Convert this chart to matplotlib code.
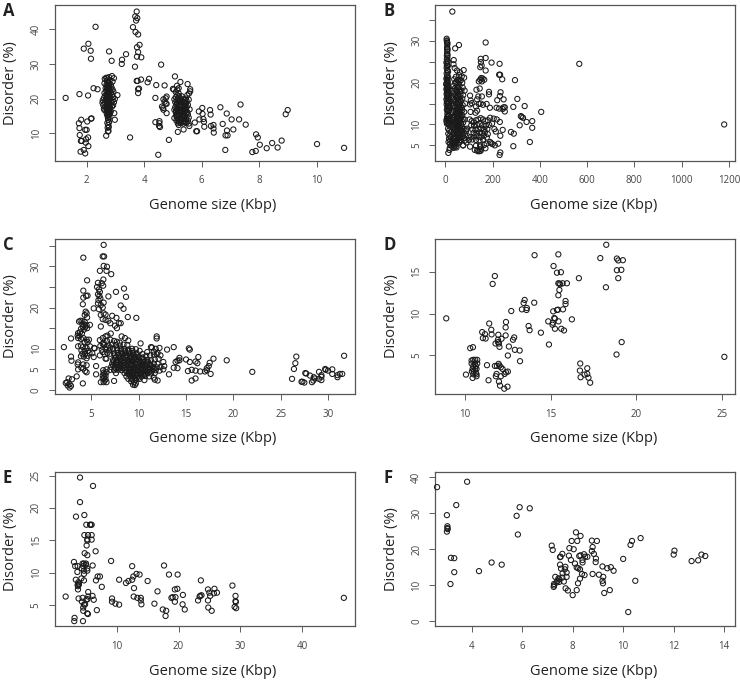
import matplotlib
matplotlib.use('Agg')
import matplotlib.pyplot as plt

plt.rcParams['font.family'] = ['Open Sans', 'DejaVu Sans']

# values: (genome size, disorder)
panel_a = [
    (1.27,20.2),(1.75,21.3),(2.05,20.9),(2.31,40.7),(1.9,34.4),(2.06,35.8),(2.14,33.8),(2.15,31.5),(2.24,23.0),(2.38,22.7),
    (1.73,12.9),(1.81,13.9),(1.75,11.5),(1.95,11.0),(2.0,11.0),(2.02,13.4),(2.15,14.2),(2.17,14.3),(1.76,9.5),(1.8,7.8),
    (1.83,7.8),(2.05,8.8),(1.98,8.3),(1.97,7.3),(2.06,6.3),(1.9,5.2),(1.79,4.7),(1.95,4.2),
    (2.78,33.6),(2.87,30.9),(2.98,13.9),(2.96,15.8),(3.07,21.0),(3.51,8.8),(3.23,31.2),(3.22,30.0),(3.37,32.8),(3.68,29.2),
    (3.61,40.6),(3.7,39.2),(3.79,38.5),(3.74,45.1),(3.69,43.7),(3.76,43.2),(3.72,42.5),(3.84,35.5),(3.75,34.8),(3.79,33.4),
    (3.75,32.1),(3.9,31.9),(3.74,25.1),(3.77,25.1),(3.89,25.5),(4.17,25.7),(4.12,24.7),(4.42,23.9),(4.71,23.8),(3.82,22.9),
    (3.79,22.7),(3.79,21.6),(4.59,29.8),(4.39,20.2),
    (4.78,20.6),(4.67,19.8),(4.75,20.1),(4.71,19.1),(4.75,18.6),(4.62,17.7),(4.66,17.3),(4.67,16.8),(4.78,18.5),(4.78,15.8),
    (4.39,13.2),(4.53,13.5),(4.53,12.9),(4.52,12.1),(4.55,11.8),(4.49,3.8),(4.86,8.1),
    # column near 2.75
    (2.68,9.3),(2.74,10.5),(2.76,10.7),(2.73,11.6),(2.77,11.8),(2.75,12.4),(2.72,13.0),(2.78,13.2),(2.75,13.9),(2.74,14.5),
    (2.79,14.6),(2.72,15.2),(2.77,15.5),(2.81,15.7),(2.74,16.0),(2.7,16.5),(2.62,16.7),(2.6,17.1),(2.78,16.6),(2.84,16.3),
    (2.72,17.2),(2.76,17.4),(2.65,17.6),(2.8,17.5),(2.88,17.7),(2.58,18.1),(2.7,18.2),(2.75,18.0),(2.83,18.2),(2.92,18.1),
    (2.55,18.8),(2.63,18.9),(2.72,18.7),(2.78,18.8),(2.86,18.9),(2.95,19.0),(2.56,19.5),(2.66,19.5),(2.74,19.4),(2.8,19.5),
    (2.9,19.6),(2.98,19.9),(2.6,20.2),(2.7,20.1),(2.76,20.2),(2.83,20.3),(2.92,20.4),(2.65,20.9),(2.72,20.8),(2.79,20.9),
    (2.88,21.1),(2.62,21.6),(2.71,21.5),(2.77,21.6),(2.85,21.8),(2.93,22.0),(2.68,22.3),(2.75,22.2),(2.81,22.4),(2.9,22.6),
    (2.66,23.0),(2.73,23.0),(2.79,23.1),(2.86,23.3),(2.71,23.7),(2.77,23.8),(2.84,24.0),(2.62,24.4),(2.74,24.5),(2.9,24.9),
    (2.7,25.2),(2.8,25.3),(2.63,25.7),(2.72,25.9),(2.78,26.2),(2.88,26.5),(2.95,25.9),(2.68,26.0),
    (2.74,15.0),(2.7,15.7),(2.76,16.2),(2.8,16.9),(2.69,17.0),(2.74,17.7),(2.78,18.3),(2.71,19.0),(2.76,19.7),(2.69,19.8),
    (2.79,20.0),(2.73,20.5),(2.77,21.2),(2.69,21.1),(2.74,21.9),(2.8,22.0),(2.71,22.7),(2.77,22.8),(2.74,23.4),(2.69,24.0),
    (2.79,24.4),(2.75,25.0),
    # columns near 5.2
    (5.0,22.8),(5.03,22.6),(5.07,26.4),(5.26,24.8),(5.51,24.2),(5.14,23.7),(5.6,22.7),(5.6,22.1),(5.17,10.4),(5.37,11.1),
    (5.57,12.1),(5.2,23.0),(5.15,22.6),(5.1,21.9),(5.2,21.5),(5.15,21.0),(5.1,20.4),(5.22,20.6),(5.3,20.7),(5.5,21.0),
    (5.56,21.5),(5.05,19.8),(5.15,19.6),(5.25,19.9),(5.35,19.8),(5.45,20.0),(5.55,19.7),(5.08,19.0),(5.18,18.9),(5.28,19.1),
    (5.38,19.0),(5.48,19.2),(5.12,18.2),(5.22,18.3),(5.32,18.1),(5.42,18.3),(5.52,18.2),(5.08,17.5),(5.18,17.4),(5.28,17.6),
    (5.38,17.5),(5.48,17.6),(5.05,16.8),(5.15,16.7),(5.25,16.9),(5.35,16.8),(5.45,16.7),(5.58,16.9),(5.1,16.0),(5.2,16.1),
    (5.3,15.9),(5.4,16.0),(5.5,16.1),(5.12,15.3),(5.22,15.2),(5.32,15.3),(5.42,15.1),(5.52,15.4),(5.05,14.4),(5.15,14.5),
    (5.25,14.4),(5.35,14.6),(5.45,14.3),(5.55,14.5),(5.12,13.7),(5.22,13.6),(5.32,13.8),(5.42,13.5),(5.52,13.7),(5.17,12.9),
    (5.27,13.0),(5.37,12.8),(5.47,13.0),(5.55,12.8),(5.2,12.4),
    (5.17,20.0),(5.21,19.4),(5.14,18.6),(5.2,17.9),(5.16,17.0),(5.21,16.5),(5.17,15.6),(5.2,14.9),(5.18,14.0),(5.22,13.2),
    (5.42,19.5),(5.46,18.7),(5.4,17.9),(5.45,17.2),(5.41,16.4),(5.46,15.6),(5.41,14.8),(5.45,13.9),(5.4,13.2),(5.28,18.5),
    (5.27,16.3),(5.3,14.9),(5.33,17.1),(5.11,16.5),(5.12,14.9),
    (5.76,13.1),(5.81,10.6),(5.84,10.6),(5.9,16.3),(5.92,14.0),(6.02,17.3),(6.03,15.6),(6.06,14.1),(6.08,13.3),(6.09,11.9),
    (6.29,16.7),(6.31,15.4),(6.32,12.1),(6.41,12.4),(6.41,11.4),(6.42,10.2),(6.65,17.5),(6.73,12.7),(6.82,5.2),(6.87,15.7),
    (6.88,10.8),(6.83,9.4),(6.9,9.4),(7.04,14.0),(7.1,11.1),(7.3,14.0),(7.35,18.3),(7.53,12.5),(7.89,9.7),(7.95,8.8),
    (8.02,6.7),(7.76,4.6),(7.88,4.9),(8.26,5.7),(8.45,7.2),(8.64,5.9),(8.78,7.9),(8.92,15.5),(8.99,16.7),(10.01,6.9),(10.95,5.8),
]

panel_b = [
    (30,37.0),(42,28.2),(58,29.0),(171,29.6),(171,25.9),(150,25.7),(151,24.9),(154,24.1),(148,23.7),(171,22.9),
    (196,24.8),(230,24.5),(567,24.5),(1180,10.0),(228,21.9),(232,21.9),(241,20.8),(295,20.6),(305,16.1),(247,16.0),
    (234,17.7),(231,16.8),(185,17.8),(185,17.2),(220,15.8),(288,14.2),(336,14.4),(406,13.0),(247,14.1),(252,14.1),
    (243,13.7),(252,13.1),(217,14.0),(228,13.8),(189,14.0),(175,14.9),(320,12.0),(323,11.8),(329,11.6),(344,10.6),
    (368,10.8),(368,9.2),(315,9.8),(278,8.2),(290,7.8),(358,5.8),(288,4.8),(233,3.3),(230,2.7),(243,8.7),(233,7.3),
    (224,5.4),(231,10.6),
    # column near 5-15
    (6,30.5),(7,30.1),(8,29.6),(9,29.1),(8,28.5),(10,28.0),(9,27.5),(8,27.0),(10,26.6),(9,26.0),(7,25.6),(11,25.2),
    (5,24.8),(8,24.4),(11,24.0),(6,23.5),(9,23.0),(12,22.6),(6,22.2),(9,21.8),(12,21.3),(5,20.9),(8,20.4),(11,20.0),
    (4,19.6),(8,19.2),(12,18.8),(5,18.4),(9,18.0),(13,17.6),(6,17.2),(10,16.8),(14,16.4),(5,16.0),(9,15.6),(13,15.2),
    (6,14.8),(11,14.4),(15,14.0),(7,13.5),(12,13.1),(9,12.6),(14,12.2),(8,11.7),(12,11.3),(18,11.0),(5,10.8),(9,10.4),
    (14,10.2),(18,9.8),(22,9.5),(12,9.0),(17,8.6),(23,8.2),(13,7.8),(18,7.3),(24,7.0),(16,6.6),(21,6.2),(14,5.8),(20,5.4),
    (25,5.0),(19,4.4),(13,3.2),(18,3.9),
    (7,29.9),(9,29.5),(8,28.0),(7,26.5),(9,25.0),(7,24.0),(10,22.9),(7,21.3),(10,20.6),(6,19.9),(10,19.4),(14,19.0),(7,18.7),
    (11,18.3),(15,18.0),(7,17.6),(11,17.2),(16,17.0),(8,16.4),(12,16.1),(7,15.3),(11,15.0),(16,15.2),(9,14.2),(13,14.1),
    (18,14.3),(10,13.7),(15,13.4),(11,12.1),(16,12.0),(6,11.2),(13,11.0),(20,10.9),(7,10.2),(16,10.3),
    # column near 30-70
    (40,23.5),(36,25.4),(35,24.4),(50,22.9),(62,22.5),(78,23.0),(45,21.4),(58,21.8),(70,21.5),(80,21.2),(38,20.8),(52,20.6),
    (66,20.6),(42,19.9),(56,19.8),(72,20.0),(34,19.2),(48,19.0),(60,19.1),(74,18.8),(82,18.1),(30,18.0),(44,18.2),(58,18.3),
    (68,18.0),(38,17.3),(52,17.5),(64,17.2),(76,17.0),(32,16.5),(46,16.6),(60,16.4),(72,16.2),(40,15.8),(54,15.7),(66,15.6),
    (84,15.0),(34,15.0),(48,14.9),(62,14.8),(74,14.6),(42,14.1),(56,14.0),(70,13.9),(36,13.3),(50,13.2),(64,13.1),(80,13.0),
    (30,12.6),(44,12.5),(58,12.4),(72,12.2),(38,11.8),(52,11.7),(66,11.6),(82,11.2),(32,11.0),(46,10.9),(60,10.8),(76,10.5),
    (40,10.1),(54,10.0),(68,9.9),(34,9.5),(48,9.4),(62,9.2),(78,9.0),(42,8.7),(56,8.6),(70,8.4),(36,8.0),(50,7.9),(64,7.8),
    (84,7.6),(44,7.2),(58,7.1),(72,7.0),(38,6.5),(52,6.4),(66,6.3),(30,6.0),(46,5.8),(60,5.7),(76,5.0),(34,5.3),(40,4.9),
    (44,4.7),(36,4.4),(42,5.2),(48,4.5),(30,4.6),
    (60,20.2),(46,20.2),(55,18.7),(40,18.6),(50,17.9),(62,17.8),(44,17.0),(56,16.9),(35,16.0),(50,16.3),(62,15.9),(42,15.3),
    (56,15.2),(37,14.4),(52,14.3),(64,14.2),(44,13.5),(58,13.5),(72,13.4),(33,12.9),(48,12.8),(62,12.7),(40,12.2),(54,12.1),
    (68,12.0),(34,11.5),(48,11.4),(60,11.3),(74,11.3),(38,10.6),(52,10.5),(66,10.4),(32,10.1),(46,10.2),(60,10.1),(42,9.7),
    (56,9.6),(70,9.4),(36,9.0),(50,8.9),(64,8.7),(44,8.3),(58,8.2),(72,7.7),(38,7.6),(52,7.4),(66,7.1),(42,6.8),(56,6.7),
    (34,6.7),(48,6.1),(60,6.2),(38,5.5),(52,5.5),
    # scatter near 100-200
    (105,16.9),(108,15.7),(112,15.1),(105,14.8),(107,13.0),(130,14.3),(135,13.3),(128,12.8),(142,14.9),(132,18.3),(146,18.6),
    (150,15.0),(160,14.7),(155,16.7),(140,16.7),(135,16.0),(142,20.3),(148,20.7),(152,21.1),(158,21.0),(165,20.7),(155,20.3),
    (103,11.2),(112,10.8),(120,10.5),(130,11.0),(140,11.2),(150,11.5),(160,11.2),(170,10.8),(180,11.0),(190,11.6),(205,11.4),
    (218,11.2),(110,9.8),(122,9.7),(134,9.9),(146,10.1),(158,9.8),(172,9.7),(186,9.9),(198,10.2),(115,8.8),(128,8.7),(140,8.9),
    (152,9.0),(165,8.8),(178,8.9),(208,8.9),(214,8.3),(88,8.8),(92,9.0),(88,8.4),(120,8.0),(132,7.8),(144,8.1),(156,7.9),
    (168,8.2),(180,7.7),(95,7.2),(108,7.0),(122,7.1),(136,7.2),(150,7.0),(164,7.3),(176,6.9),(80,6.8),(85,6.2),(100,6.3),
    (115,6.4),(130,6.3),(145,6.2),(160,6.4),(75,5.0),(90,5.7),(105,4.7),(130,4.9),(148,5.0),(165,5.1),(175,5.4),(190,5.8),
    (195,5.5),(200,5.3),(210,5.0),(125,3.9),(138,3.6),(145,3.6),(150,3.7),(152,4.2),(170,4.3),(148,4.7),(135,3.8),
]

panel_c = [
    (6.3,35.2),(6.2,32.4),(6.35,32.4),(4.15,32.1),(6.3,30.1),(6.65,29.9),(5.9,28.9),(6.6,28.9),(7.1,28.1),(4.55,26.6),
    (6.27,26.8),(5.7,26.0),(6.1,25.9),(6.25,25.3),(5.6,25.0),(4.15,24.1),(8.45,24.6),(7.6,23.8),(8.66,22.6),(6.8,22.7),
    (4.45,22.8),(4.6,22.9),(4.15,22.4),(4.1,20.8),(8.1,20.5),(8.4,19.7),(5.25,19.8),(8.85,17.7),(9.75,17.5),(7.2,18.0),
    (7.65,17.5),(5.8,24.4),(5.9,23.8),(5.7,23.2),(5.85,22.8),(5.95,22.2),(5.75,21.8),(6.3,21.2),(5.7,21.0),(6.0,20.6),
    (6.2,20.0),(5.8,19.6),(6.3,18.6),(6.0,18.2),(6.5,18.3),(6.2,17.2),(6.5,17.0),(6.8,16.8),(7.0,16.2),(6.0,15.4),
    (7.5,15.6),(7.7,15.0),(7.9,16.2),(8.1,16.2),
    # left group
    (4.4,19.0),(4.5,18.6),(4.3,18.2),(4.55,17.6),(3.7,16.6),(3.85,16.8),(4.05,16.7),(4.3,16.5),(4.05,16.0),(4.25,15.8),
    (4.5,15.7),(4.85,15.8),(4.1,15.3),(4.35,15.2),(4.55,15.0),(3.9,14.8),(4.2,14.6),(3.6,13.8),(3.8,14.0),(4.0,13.7),
    (3.55,13.2),(3.75,13.1),(3.6,12.6),(3.9,12.4),(4.15,12.6),(2.85,12.5),(4.5,12.2),(4.75,12.2),(4.3,11.6),(4.6,11.6),
    (3.6,10.6),(3.9,10.8),(2.1,10.4),(4.1,10.4),(4.5,10.2),(4.85,10.6),(5.3,10.2),(5.35,10.1),(3.95,9.6),(4.3,9.5),
    (4.65,9.5),(4.05,8.8),(4.35,8.8),(4.8,9.0),(5.1,8.9),(3.9,8.2),(4.2,8.1),(4.6,8.3),(2.85,8.1),(5.25,8.0),(4.5,7.7),
    (2.9,7.1),(3.6,6.7),(3.55,6.2),(4.15,6.2),(4.5,6.0),(3.95,5.4),(4.15,5.2),(3.6,5.0),(4.35,4.6),(4.5,4.3),(3.45,3.3),
    (4.1,1.6),(5.5,5.8),(5.5,3.8),(2.3,1.7),(2.6,2.8),(2.95,2.6),(2.7,1.4),(2.5,1.1),(2.85,1.0),(2.7,0.6),(2.45,1.9),
    # dense middle
    (5.9,12.1),(6.2,12.6),(6.5,13.0),(6.7,13.2),(7.05,13.7),(6.3,11.5),(6.65,11.9),(7.0,12.2),(7.4,11.9),(7.7,11.7),
    (8.0,11.5),(8.2,13.0),(8.55,12.6),(8.9,12.0),(5.95,10.7),(6.35,10.9),(6.8,10.8),(7.2,11.0),(7.6,10.9),(8.0,10.8),
    (8.4,11.0),(8.8,10.9),(6.1,9.8),(6.5,9.9),(6.9,9.6),(7.3,10.0),(7.7,10.1),(8.1,9.9),(8.5,10.0),(8.9,9.8),(9.3,10.0),
    (9.7,9.9),(10.1,9.5),(10.2,11.3),(5.9,8.4),(6.4,8.7),(7.0,8.8),(7.4,8.9),(7.8,9.0),(8.2,9.0),(8.6,9.1),(9.0,8.9),
    (9.4,9.0),(9.8,8.9),(10.4,8.7),(10.9,9.2),(11.3,10.4),(11.8,10.0),(7.6,8.0),(8.0,8.2),(8.4,8.0),(8.8,8.2),(9.2,8.0),
    (9.6,8.1),(10.0,8.0),(10.4,7.9),(10.8,8.3),(11.2,8.4),(11.6,8.6),(12.0,9.0),(12.2,10.2),(7.3,7.3),(7.7,7.2),(8.1,7.4),
    (8.5,7.2),(8.9,7.3),(9.3,7.2),(9.7,7.3),(10.1,7.1),(10.5,7.2),(10.9,7.3),(11.3,7.2),(11.7,7.4),(12.1,7.6),(12.3,8.4),
    (6.5,7.6),(6.6,7.6),(7.2,6.4),(7.6,6.5),(8.0,6.3),(8.4,6.5),(8.8,6.4),(9.2,6.3),(9.6,6.5),(10.0,6.3),(10.4,6.4),
    (10.8,6.5),(11.2,6.2),(11.6,6.4),(12.0,6.3),(12.6,6.8),(7.1,5.6),(7.5,5.7),(7.9,5.5),(8.3,5.7),(8.7,5.6),(9.1,5.5),
    (9.5,5.7),(9.9,5.5),(10.3,5.6),(10.7,5.7),(11.1,5.4),(11.5,5.6),(11.9,5.5),(12.3,5.6),(12.7,5.8),(6.6,5.0),(7.0,4.9),
    (7.4,4.8),(7.8,4.9),(8.2,4.8),(8.6,4.9),(9.0,4.8),(9.4,4.9),(9.8,4.7),(10.2,4.9),(10.6,4.8),(11.0,4.9),(11.4,4.7),
    (11.8,4.8),(12.2,4.7),(12.6,5.0),(6.3,4.2),(6.6,4.3),(7.6,4.1),(8.5,4.1),(8.9,4.0),(9.3,4.1),(9.7,4.0),(10.1,4.1),
    (10.5,4.0),(10.9,4.1),(11.3,4.0),(11.7,4.1),(6.2,3.5),(6.5,3.4),(8.7,3.3),(9.1,3.4),(9.5,3.3),(9.9,3.4),(10.3,3.3),
    (10.7,3.4),(11.1,3.3),(11.6,3.0),(6.2,2.8),(6.5,2.6),(8.9,2.7),(9.3,2.6),(9.7,2.5),(10.1,2.7),(10.6,2.4),(11.7,2.5),
    (12.0,2.3),(6.0,1.9),(6.3,1.9),(6.6,1.9),(7.4,2.2),(9.2,2.1),(9.5,1.9),(9.7,1.6),(9.4,1.3),(9.6,1.2),(11.9,13.0),
    (11.9,12.5),(11.4,10.3),(11.6,9.3),(11.9,8.7),
    (7.75,9.6),(8.15,9.4),(8.55,9.5),(8.95,9.4),(9.35,9.5),(7.45,8.4),(7.85,8.5),(8.25,8.6),(8.65,8.5),(9.05,8.6),(9.45,8.5),
    (9.85,8.4),(7.5,7.7),(7.9,7.8),(8.3,7.7),(8.7,7.8),(9.1,7.7),(9.5,7.6),(9.9,7.6),(10.3,7.7),(7.35,6.9),(7.8,6.8),(8.2,6.9),
    (8.6,6.9),(9.0,6.8),(9.4,6.9),(9.8,6.8),(10.2,6.7),(10.6,6.9),(11.0,6.8),(7.3,6.0),(7.7,6.1),(8.1,5.9),(8.5,6.1),(8.9,6.0),
    (9.3,5.9),(9.7,6.1),(10.1,5.9),(10.5,6.0),(10.9,6.1),(11.3,5.9),(7.6,5.2),(8.0,5.2),(8.4,5.3),(8.8,5.2),(9.2,5.1),(9.6,5.2),
    (10.0,5.1),(10.4,5.2),(10.8,5.1),(11.2,5.2),(11.6,5.1),(8.7,4.5),(9.1,4.4),(9.5,4.4),(9.9,4.5),(10.3,4.4),(10.7,4.5),(11.1,4.4),
    (9.0,3.8),(9.4,3.7),(9.8,3.8),(10.2,3.7),(10.6,3.8),(9.2,3.0),(9.6,2.9),(10.0,3.0),(6.25,4.8),(6.4,3.9),(6.35,3.1),(6.4,2.3),
    (6.7,9.0),(6.2,9.2),(6.6,10.4),(7.0,10.3),(6.2,11.2),
    # right of the cluster
    (13.0,9.8),(13.7,10.4),(13.2,3.8),(13.7,5.4),(14.1,5.3),(13.9,6.8),(14.1,7.1),(14.3,7.2),(14.3,7.8),(15.0,7.4),
    (15.3,10.1),(15.4,9.8),(15.4,6.8),(15.2,4.6),(15.6,4.9),(16.0,4.7),(15.6,2.3),(16.0,2.8),(16.0,6.9),(16.2,6.5),
    (16.3,8.0),(16.5,4.5),(17.0,4.5),(17.2,4.8),(17.2,5.3),(17.4,5.8),(17.5,6.6),(17.6,3.9),(17.9,7.6),(19.3,7.2),(22.0,4.4),
    # far right group
    (26.2,2.7),(26.4,5.1),(26.55,6.5),(26.65,8.1),(27.2,2.0),(27.3,2.0),(27.5,1.8),(27.6,4.1),(27.7,4.0),(28.1,3.5),
    (28.3,1.9),(28.45,2.3),(28.5,3.1),(28.6,2.8),(29.05,4.4),(29.05,2.7),(29.3,2.4),(29.3,3.2),(29.3,3.6),(29.7,5.1),
    (29.75,4.9),(30.0,4.7),(30.45,5.0),(30.45,3.9),(31.0,3.6),(31.0,3.1),(31.25,3.9),(31.5,3.9),(31.7,8.3),
]

panel_d = [
    (8.89,9.42),(18.24,18.25),(17.89,16.65),(18.86,16.6),(18.94,16.37),(19.21,16.4),(18.86,15.2),(19.12,15.24),(18.94,14.24),(18.22,13.15),
    (16.64,14.24),(14.05,17.0),(15.44,17.1),(15.16,15.7),(15.36,14.9),(15.59,14.96),(11.73,14.5),(11.6,13.55),(15.44,13.63),(15.5,13.6),
    (15.55,13.5),(15.69,13.63),(15.94,13.63),(15.5,12.83),(15.44,12.19),(15.86,11.5),(15.86,11.14),(13.47,11.63),(13.41,11.27),(14.03,11.3),
    (13.6,10.66),(13.58,10.42),(13.31,10.5),(12.69,10.3),(15.14,10.26),(15.36,10.42),(15.42,10.46),(15.71,10.5),(16.23,9.3),(15.2,9.46),
    (15.24,9.38),(14.85,9.06),(15.45,9.06),(15.12,8.9),(15.1,8.65),(15.24,8.17),(15.61,8.17),(15.77,7.97),(12.38,8.98),(11.4,8.8),
    (12.36,8.33),(11.52,8.05),(13.7,8.5),(13.76,8.0),(14.42,7.7),(10.99,7.77),(11.15,7.53),(11.54,7.49),(12.36,7.37),(11.93,7.45),
    (11.03,7.05),(11.19,7.0),(12.86,7.13),(12.79,6.85),(12.12,6.97),(11.91,6.85),(11.91,6.57),(11.77,6.4),(11.97,6.4),(14.89,6.28),
    (19.14,6.57),(18.84,5.08),(25.14,4.8),(10.29,5.84),(10.45,5.96),(12.0,6.0),(12.55,6.04),(12.9,5.64),(13.18,5.56),(12.49,4.96),
    (13.2,4.28),(11.27,3.8),(11.73,3.71),(11.85,3.71),(11.95,3.96),(12.0,3.75),(12.08,3.55),(12.18,3.35),
    (10.37,4.36),(10.47,4.44),(10.58,4.44),(10.7,4.44),(10.37,4.0),(10.56,4.0),(10.7,4.0),(10.47,3.68),(10.62,3.68),(10.43,3.36),
    (10.58,3.36),(10.66,3.36),(10.39,3.04),(10.5,3.04),(10.62,2.88),(10.47,2.71),(10.66,2.71),(10.43,2.27),(10.66,2.47),(10.04,2.67),
    (11.83,2.75),(11.79,2.47),(12.08,2.47),(12.3,2.75),(12.38,2.95),(12.49,3.03),(11.97,1.83),(12.03,1.35),(11.36,1.99),(12.28,0.98),
    (12.47,1.22),(16.7,3.15),(16.72,4.0),(16.74,2.35),(16.97,2.67),(17.13,3.43),(17.13,2.75),(17.2,2.3),(17.3,1.7),
]

panel_e = [
    (4.08,24.7),(6.18,23.4),(4.08,20.9),(4.78,18.9),(3.43,18.66),(5.1,17.4),(5.7,17.4),(5.8,17.4),(5.96,17.4),(4.78,15.8),
    (5.37,15.8),(5.96,15.8),(5.26,15.15),(5.26,14.95),(5.96,15.1),(5.15,14.2),(6.6,13.3),(4.83,13.0),(5.26,12.7),(3.1,11.65),
    (9.1,11.8),(3.3,11.0),(3.7,11.0),(4.5,11.4),(4.7,11.4),(5.05,11.4),(4.6,11.0),(5.0,11.2),(6.12,11.1),(4.35,10.65),
    (5.26,10.65),(4.72,10.3),(5.26,10.3),(3.65,10.1),(4.72,9.8),(4.3,9.1),(3.4,8.9),(4.72,8.8),(3.8,8.5),(3.7,8.1),
    (3.9,8.3),(3.75,7.4),(3.9,8.15),(3.75,7.9),(6.93,9.4),(7.3,9.4),(6.66,8.8),(7.6,7.8),(10.4,8.9),(11.5,8.4),
    (11.9,8.7),(12.5,8.9),(12.7,9.4),(12.5,11.0),(13.2,9.8),(13.7,9.7),(15.0,8.7),(17.65,11.1),(18.45,9.7),(19.85,9.7),
    (12.8,7.6),(16.6,7.1),(19.4,7.4),(19.8,7.5),(20.7,6.55),(23.6,8.8),(24.75,7.4),(24.97,6.9),(25.8,7.5),(25.7,6.8),
    (26.2,6.9),(28.7,8.0),(29.2,6.4),(29.2,5.6),(29.25,5.45),(29.05,4.7),(29.3,4.5),(23.7,6.5),(23.5,6.4),(23.4,6.3),
    (25.1,6.4),(23.15,5.7),(24.75,5.7),(24.8,4.6),(25.35,4.1),(18.85,6.1),(19.05,6.2),(19.5,6.2),(19.4,5.5),(20.65,5.1),
    (21.0,4.3),(16.1,5.2),(17.45,4.3),(18.0,4.1),(17.9,3.3),(9.25,6.0),(9.25,5.5),(9.8,5.2),(10.4,5.05),(12.75,6.3),
    (13.35,6.1),(13.9,6.1),(13.9,5.7),(14.0,5.1),(1.76,6.3),(3.85,6.0),(4.5,6.1),(5.4,7.0),(6.1,6.4),(5.4,6.3),
    (5.1,5.8),(5.3,5.9),(6.3,5.8),(4.4,5.5),(4.72,5.05),(4.9,5.1),(4.6,4.6),(4.6,4.1),(6.8,4.2),(5.25,3.7),
    (5.35,3.6),(3.2,3.0),(3.15,2.5),(4.56,2.5),(46.7,6.1),
]

panel_f = [
    (2.63,37.3),(3.82,38.8),(3.39,32.3),(3.02,29.5),(3.04,26.4),(3.04,25.9),(3.05,25.6),(3.02,24.9),(3.18,17.6),(3.31,17.5),
    (3.31,13.6),(3.16,10.3),(4.29,13.9),(4.79,16.3),(5.19,15.7),(5.78,29.3),(5.9,31.7),(6.3,31.4),(5.83,24.1),(7.17,21.0),
    (7.21,19.8),(7.59,18.7),(7.52,17.9),(7.5,17.8),(7.87,20.3),(7.96,22.3),(8.04,20.0),(8.13,24.7),(8.18,22.3),(8.31,23.7),
    (8.76,22.4),(8.96,22.3),(8.79,20.6),(8.76,19.5),(8.84,18.7),(8.92,17.4),(8.91,16.4),(9.18,15.2),(9.37,14.7),(9.51,15.0),
    (9.62,14.0),(10.35,22.3),(10.29,21.2),(10.69,23.1),(10.0,17.3),(10.48,11.2),(10.2,2.5),(12.0,18.5),(12.03,19.6),(12.71,16.7),
    (12.97,16.9),(13.1,18.5),(13.25,18.1),(7.85,18.2),(7.93,17.0),(7.5,15.7),(7.71,15.1),(7.54,14.6),(7.69,14.4),(7.6,13.3),
    (7.76,13.5),(7.31,12.3),(7.76,12.3),(7.59,12.1),(7.65,11.0),(7.44,11.9),(7.47,11.6),(7.4,11.2),(7.47,10.9),(7.36,10.7),
    (7.26,10.3),(7.25,9.5),(7.26,9.9),(7.72,9.1),(7.81,8.5),(8.0,7.2),(8.09,16.0),(8.16,14.9),(8.22,14.7),(8.29,14.4),
    (8.26,18.1),(8.31,18.3),(8.39,17.0),(8.39,16.3),(8.45,18.6),(8.49,17.9),(8.58,17.9),(8.37,13.1),(8.47,12.8),(8.29,11.8),
    (8.21,10.5),(8.16,8.6),(8.79,13.1),(9.04,12.9),(9.21,12.3),(9.18,11.2),(9.2,10.5),(9.25,7.8),(9.47,8.6),
]

panels = [panel_a, panel_b, panel_c, panel_d, panel_e, panel_f]
letters = ['A', 'B', 'C', 'D', 'E', 'F']
x_ticks = [[2, 4, 6, 8, 10], [0, 200, 400, 600, 800, 1000, 1200], [5, 10, 15, 20, 25, 30],
           [10, 15, 20, 25], [10, 20, 30, 40], [4, 6, 8, 10, 12, 14]]
y_ticks = [[10, 20, 30, 40], [5, 10, 15, 20, 25, 30, 35], [0, 5, 10, 15, 20, 25, 30, 35],
           [5, 10, 15], [5, 10, 15, 20, 25], [0, 10, 20, 30, 40]]
y_labels = [['10', '20', '30', '40'], ['5', '10', '', '20', '', '30', ''],
            ['0', '5', '10', '', '20', '', '30', ''], ['5', '10', '15'],
            ['5', '10', '15', '20', '25'], ['0', '10', '20', '30', '40']]
x_limits = [(0.9, 11.33), (-42, 1227), (1.16, 32.85), (8.25, 25.78), (0.04, 48.5), (2.56, 14.44)]
y_limits = [(2.1, 46.9), (1.33, 38.5), (-0.97, 36.7), (0.34, 18.98), (1.7, 25.6), (-1.48, 41.6)]

W, H = 740, 680
fig = plt.figure(figsize=(W / 100, H / 100), dpi=100)

lefts = [55, 435.3]
tops = [5.3, 238.7, 471.7]
bottoms = [160.7, 394, 626.3]
dark = '#444444'

for i, pts in enumerate(panels):
    col = i % 2
    row = i // 2
    ax = fig.add_axes([lefts[col] / W, 1 - bottoms[row] / H, 300 / W, (bottoms[row] - tops[row]) / H])
    xs = [p[0] for p in pts]
    ys = [p[1] for p in pts]
    ax.scatter(xs, ys, s=14, facecolors='none', edgecolors='#1a1a1a', linewidths=0.75, clip_on=False, zorder=3)
    ax.set_xlim(x_limits[i])
    ax.set_ylim(y_limits[i])
    ax.set_xticks(x_ticks[i])
    ax.set_yticks(y_ticks[i])
    ax.set_yticklabels(y_labels[i], rotation=90, va='center')
    ax.tick_params(axis='both', direction='out', length=4.5, width=0.6, color=dark, labelcolor=dark, labelsize=7)
    ax.tick_params(axis='x', pad=6)
    ax.tick_params(axis='y', pad=5)
    for spine in ax.spines.values():
        spine.set_linewidth(0.9)
        spine.set_color('#555555')
    ax.set_xlabel('Genome size (Kbp)', fontsize=10.5, color='#222222', labelpad=8.5, x=0.527)
    ax.set_ylabel('Disorder (%)', fontsize=10.5, color='#222222', labelpad=9)
    fig.text((lefts[col] - 52) / W, 1 - (tops[row] + 11) / H, letters[i], fontsize=12,
             fontweight='bold', color='#222222', ha='left', va='baseline')

fig.savefig('out.png', dpi=100)
